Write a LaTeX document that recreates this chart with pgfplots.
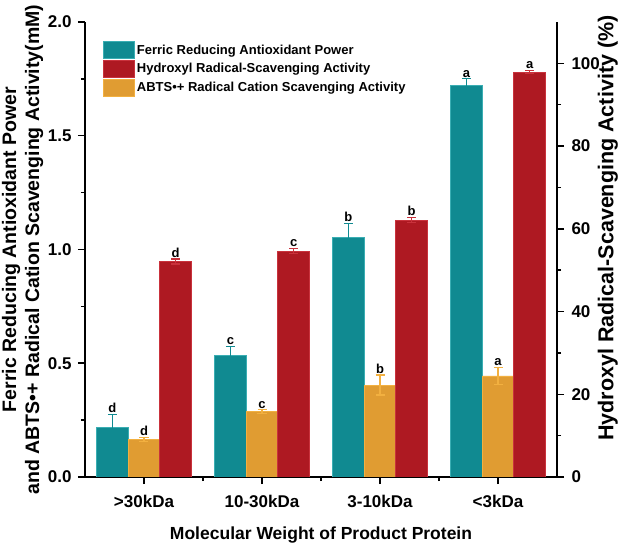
\documentclass[border=0pt]{standalone}
\usepackage{pgfplots}
\pgfplotsset{compat=1.18}
\usepackage{fontspec}
\setmainfont{Liberation Sans}
\definecolor{cteal}{HTML}{108A91}
\definecolor{cteale}{HTML}{3AAEB3}
\definecolor{cred}{HTML}{AE1922}
\definecolor{crede}{HTML}{C9323C}
\definecolor{corange}{HTML}{E09C32}
\definecolor{corangee}{HTML}{F2B040}
\newcommand\fT{\bfseries\fontsize{17bp}{20bp}\selectfont}
\newcommand\fX{\bfseries\fontsize{17.5bp}{21bp}\selectfont}
\newcommand\fL{\bfseries\fontsize{19.5bp}{23bp}\selectfont}
\newcommand\fR{\bfseries\fontsize{21.5bp}{25bp}\selectfont}
\newcommand\fS{\bfseries\fontsize{13bp}{15bp}\selectfont}
\pgfplotsset{
  mybase/.style={
    scale only axis, width=472bp, height=455bp,
    xmin=-0.5, xmax=3.5, ybar, bar width=0.268,
    tick align=outside, major tick length=7bp, minor tick length=4bp,
    every tick/.append style={black, line width=1.5bp},
    axis line style={-, line width=1.5bp},
    ticklabel style={font=\fT},
    /pgf/number format/assume math mode=true,
    error bars/error bar style={line width=1.2bp},
    error bars/error mark options={rotate=90, mark size=4.5bp, line width=1.2bp},
  },
  letters/.style={forget plot, draw=none, fill=none, nodes near coords,
    point meta=explicit symbolic,
    every node near coord/.append style={font=\fS, text=black, inner sep=1.5bp, anchor=south}},
  leg/.style={legend image code/.code={\draw[#1] (0bp,-8.5bp) rectangle (31bp,8.5bp);}},
}
\begin{document}
\begin{tikzpicture}
\begin{axis}[mybase,
  axis y line*=left, axis x line*=bottom,
  ymin=0, ymax=2,
  ytick={0,0.5,1,1.5,2}, minor y tick num=1,
  yticklabel style={xshift=-3bp, /pgf/number format/.cd, fixed, fixed zerofill, precision=1},
  xtick={0,1,2,3}, xticklabels={{>30kDa},{10-30kDa},{3-10kDa},{<3kDa}},
  xticklabel style={yshift=-8bp},
  minor xtick={0.5,1.5,2.5},
  xlabel={Molecular Weight of Product Protein},
  xlabel style={font=\fX, at={(axis description cs:0.5,-0.1275)}, anchor=center},
  ylabel={Ferric Reducing Antioxidant Power\\and ABTS•+ Radical Cation Scavenging Activity(mM)},
  ylabel style={font=\fL, align=center, at={(axis description cs:-0.1324,0.5)}, anchor=center},
  legend style={at={(axis description cs:0.038,0.958)}, anchor=north west, draw=none, fill=none,
    font=\fS, inner sep=0pt, row sep=1bp},
  legend cell align=left,
]
\addlegendimage{leg, fill=cteal, draw=cteale, line width=0.8bp}
\addlegendentry{Ferric Reducing Antioxidant Power}
\addlegendimage{leg, fill=cred, draw=crede, line width=0.8bp}
\addlegendentry{Hydroxyl Radical-Scavenging Activity}
\addlegendimage{leg, fill=corange, draw=corangee, line width=0.8bp}
\addlegendentry{ABTS•+ Radical Cation Scavenging Activity}
% FRAP
\addplot[forget plot, bar shift=-0.268, fill=cteal, draw=cteale, line width=0.8bp,
  error bars/.cd, y dir=both, y explicit, error bar style={color=cteal}]
  coordinates {(0,0.217) +- (0,0.057) (1,0.535) +- (0,0.040) (2,1.054) +- (0,0.062) (3,1.722) +- (0,0.028)};
% ABTS
\addplot[forget plot, bar shift=0, fill=corange, draw=corangee, line width=0.8bp,
  error bars/.cd, y dir=both, y explicit, error bar style={color=corangee}]
  coordinates {(0,0.166) +- (0,0.009) (1,0.287) +- (0,0.008) (2,0.404) +- (0,0.044) (3,0.444) +- (0,0.038)};
\addplot[letters, bar shift=-0.268] coordinates {(0,0.274) [d] (1,0.575) [c] (2,1.116) [b] (3,1.750) [a]};
\addplot[letters, bar shift=0] coordinates {(0,0.175) [d] (1,0.295) [c] (2,0.448) [b] (3,0.482) [a]};
\end{axis}
\begin{axis}[mybase,
  axis y line*=right, axis x line=none,
  ymin=0, ymax=110,
  ytick={0,20,40,60,80,100}, minor y tick num=1,
  yticklabel style={xshift=4bp},
  ylabel={Hydroxyl Radical-Scavenging Activity (\%)},
  ylabel style={font=\fR, at={(axis description cs:1.108,0.547)}, anchor=center, rotate=0},
]
\addplot[forget plot, bar shift=0.268, fill=cred, draw=crede, line width=0.8bp,
  error bars/.cd, y dir=both, y explicit, error bar style={color=crede}]
  coordinates {(0,52.1) +- (0,0.6) (1,54.6) +- (0,0.6) (2,62.1) +- (0,0.65) (3,97.9) +- (0,0.4)};
\addplot[letters, bar shift=0.268] coordinates {(0,52.7) [d] (1,55.2) [c] (2,62.75) [b] (3,98.3) [a]};
\end{axis}
\pgfresetboundingbox
\path[use as bounding box] (-85bp,-72bp) rectangle (539bp,477bp);
\end{tikzpicture}
\end{document}
